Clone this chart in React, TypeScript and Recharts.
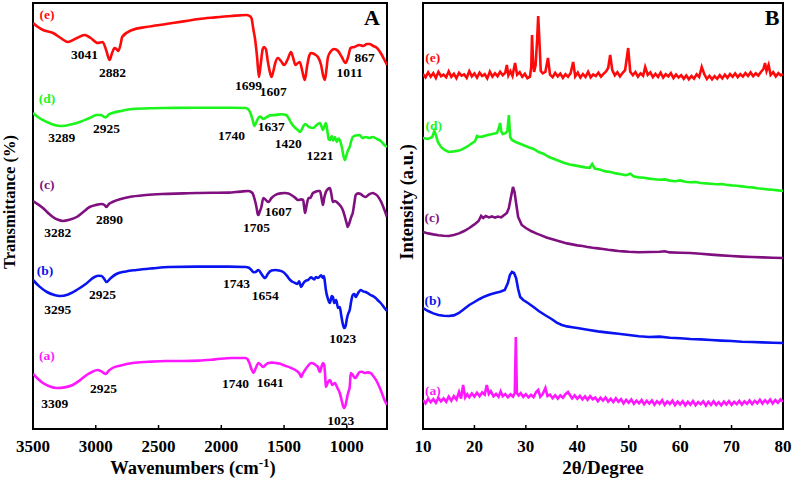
import { LineChart, Line, XAxis, YAxis, ReferenceArea, ReferenceDot } from 'recharts';

const FONT = '"Liberation Serif", "Times New Roman", serif';
const RED = '#ff0a0a';
const GREEN = '#1cf51c';
const PURPLE = '#80107f';
const BLUE = '#0a14f0';
const MAGENTA = '#ff18ff';

// FTIR spectra: [wavenumber, transmittance (a.u., offset)]
const ftirE = [
  [3500, 203], [3460, 201], [3420, 199.5], [3340, 198], [3280, 195.5], [3220, 193.5], [3150, 195.5], [3090, 197],
  [3040, 195.5], [2985, 193], [2945, 193.5], [2915, 189], [2890, 184.5], [2870, 188], [2850, 190.5], [2835, 190],
  [2820, 189], [2800, 193], [2790, 196], [2710, 199.5], [2600, 201], [2440, 202.5], [2300, 203.8], [2180, 205],
  [2050, 205.8], [1920, 206.5], [1800, 207], [1775, 206.5], [1760, 205.5], [1745, 200], [1730, 194.5], [1715, 186],
  [1700, 176], [1685, 183], [1670, 190], [1660, 191], [1645, 190], [1630, 184], [1615, 179], [1600, 176],
  [1585, 179], [1570, 183], [1550, 185.5], [1525, 184], [1500, 182], [1470, 185], [1445, 188.5], [1425, 185],
  [1410, 182], [1390, 183], [1375, 183.5], [1355, 179], [1335, 174.5], [1315, 182], [1300, 186.5], [1285, 188],
  [1260, 187.5], [1230, 186], [1205, 182], [1190, 177], [1175, 174.5], [1162, 180], [1150, 186], [1125, 189],
  [1100, 190], [1070, 189], [1040, 186], [1010, 183], [990, 186], [970, 190.5], [940, 191], [900, 192],
  [870, 191.5], [840, 192.5], [820, 192.5], [790, 191.5], [760, 190.5], [730, 188], [700, 184.5], [680, 182],
];

const ftirD = [
  [3500, 158], [3450, 155.5], [3389, 153.5], [3330, 152], [3271, 151.5], [3200, 152.2], [3128, 153.5], [3050, 155.5],
  [2994, 157], [2960, 157], [2923, 155.8], [2895, 157.3], [2867, 158], [2800, 159], [2709, 160], [2550, 160.4],
  [2440, 160.5], [2200, 160.6], [1918, 160.6], [1807, 160.5], [1785, 159.8], [1768, 158], [1750, 154.5], [1736, 151.5],
  [1720, 153.5], [1700, 156], [1689, 156.2], [1665, 155], [1649, 155.5], [1610, 156.8], [1570, 157], [1520, 157.4],
  [1483, 157], [1460, 155], [1443, 153], [1410, 150.5], [1390, 149.5], [1372, 148.5], [1350, 151], [1333, 152.5],
  [1300, 151], [1269, 150.5], [1240, 152], [1214, 153], [1200, 151], [1190, 149.5], [1178, 151.5], [1167, 153],
  [1155, 149], [1145, 145], [1135, 144.5], [1120, 146.5], [1110, 144.2], [1095, 146], [1080, 143.5], [1068, 145.2],
  [1056, 144.5], [1040, 141], [1028, 137], [1016, 134.5], [1005, 136.5], [990, 139.5], [977, 141], [965, 144],
  [953, 146], [930, 146.8], [898, 147], [875, 145.5], [850, 146], [820, 145.5], [795, 146], [760, 145],
  [730, 144], [700, 142], [680, 141],
];

const ftirC = [
  [3500, 114], [3460, 112.3], [3421, 110.5], [3380, 108], [3342, 106], [3300, 104.6], [3263, 104], [3210, 104.6],
  [3152, 106], [3100, 108.5], [3049, 111], [3000, 112], [2954, 112.5], [2930, 112], [2915, 111], [2895, 112.5],
  [2867, 113.5], [2800, 115], [2733, 116], [2600, 117], [2472, 117.5], [2300, 117.8], [2203, 118], [1942, 118.2],
  [1850, 118.7], [1784, 119], [1752, 118], [1735, 115], [1720, 111], [1710, 107.5], [1704, 107], [1695, 108.5],
  [1681, 111], [1665, 115.5], [1645, 114.5], [1625, 113.5], [1600, 115.5], [1570, 117], [1530, 117.8], [1491, 118],
  [1465, 117.8], [1443, 117], [1415, 115.8], [1388, 114.5], [1365, 114.8], [1348, 114.5], [1340, 111], [1333, 108],
  [1320, 112], [1305, 115.5], [1293, 115.5], [1270, 118], [1254, 118.5], [1230, 119], [1214, 119], [1200, 115],
  [1190, 112], [1180, 115.5], [1167, 118.5], [1150, 120], [1135, 120.5], [1122, 117], [1111, 113.5], [1095, 114],
  [1072, 113], [1050, 111.5], [1032, 109.5], [1015, 106], [1000, 102.5], [993, 101], [980, 103], [965, 106],
  [953, 108], [940, 113], [929, 117], [910, 117.8], [890, 117.5], [870, 116.5], [850, 116], [825, 117.2],
  [795, 118], [775, 117.5], [755, 116.5], [730, 114], [700, 109.5], [680, 106],
];

const ftirB = [
  [3500, 74.5], [3450, 71.3], [3389, 68.5], [3330, 67], [3286, 66.5], [3220, 67.3], [3152, 69.5], [3080, 72.5],
  [3010, 76], [2975, 76.6], [2954, 76.5], [2935, 75.3], [2915, 73.5], [2880, 75.5], [2836, 77.5], [2760, 78.8],
  [2677, 79.5], [2550, 80.3], [2416, 81], [2200, 81.2], [1942, 81.2], [1807, 81], [1780, 80.6], [1760, 79.5],
  [1743, 78.4], [1728, 78.5], [1704, 79.5], [1680, 77.5], [1660, 75.8], [1649, 75.5], [1630, 77.5], [1600, 79.2],
  [1570, 79.5], [1540, 79.3], [1507, 78.5], [1480, 76.8], [1451, 74.5], [1430, 73.5], [1412, 73], [1395, 72.5],
  [1380, 73.8], [1364, 71], [1345, 73], [1325, 74.2], [1309, 74.5], [1285, 75.8], [1260, 74.8], [1245, 76],
  [1230, 75.5], [1205, 76.8], [1190, 75.5], [1182, 76.5], [1172, 72], [1167, 69.5], [1150, 65], [1135, 63],
  [1120, 66.5], [1111, 66], [1100, 63], [1085, 64.5], [1070, 60.5], [1056, 61], [1045, 57], [1030, 52],
  [1020, 50.5], [1010, 51.5], [1000, 55], [990, 57.5], [977, 59.5], [965, 64], [953, 67], [940, 67.5],
  [929, 66], [910, 68], [890, 69.5], [870, 68.8], [850, 68.5], [830, 67.8], [811, 67], [780, 66],
  [755, 64.5], [730, 63], [700, 60.5], [680, 59],
];

const ftirA = [
  [3500, 27.5], [3460, 25], [3421, 23], [3370, 21.4], [3310, 20.5], [3250, 20.8], [3184, 22], [3130, 24.2],
  [3073, 27], [3030, 28.5], [2986, 29.5], [2955, 28.8], [2923, 27.5], [2895, 29.2], [2867, 30.5], [2800, 31.8],
  [2709, 33], [2580, 33.6], [2440, 34], [2300, 34], [2179, 34.2], [2050, 34.8], [1918, 35.5], [1807, 35.5],
  [1790, 34.8], [1776, 33], [1760, 30], [1744, 28], [1725, 30.5], [1704, 33], [1685, 32], [1665, 31],
  [1645, 32.2], [1625, 33], [1600, 33.2], [1570, 33], [1540, 32.8], [1507, 32], [1475, 31.3], [1443, 30.5],
  [1410, 29.5], [1388, 28.5], [1375, 27.5], [1364, 26], [1350, 27.8], [1333, 29.5], [1310, 31.5], [1285, 33],
  [1260, 32.6], [1240, 31.5], [1230, 31], [1220, 29], [1214, 28.5], [1200, 31.5], [1190, 33], [1180, 32],
  [1172, 26], [1167, 21], [1150, 23.5], [1135, 24.5], [1115, 22], [1095, 23], [1075, 20.5], [1056, 18],
  [1040, 14], [1030, 11.5], [1020, 10.5], [1010, 12], [1000, 15], [990, 18], [977, 21], [969, 28],
  [955, 27.2], [940, 25.8], [929, 25.5], [915, 27], [898, 28.5], [880, 28.6], [858, 28], [835, 28.3],
  [811, 28], [790, 26.5], [770, 24.8], [755, 23], [730, 19.5], [700, 14.5], [680, 12],
];

// XRD patterns: [2θ, intensity (a.u., offset)]
const xrdE = [
  [10, 177.5], [10.5, 175.8], [11, 178.3], [11.5, 176.2], [12, 177.9], [12.5, 175.5], [13, 178.6], [13.5, 176.4],
  [14, 177.2], [14.5, 175.9], [15, 178.8], [15.5, 176.1], [16, 177.6], [16.5, 175.4], [17, 178.1], [17.5, 176.7],
  [18, 177.3], [18.5, 175.6], [19, 178.9], [19.5, 176.3], [20, 177.8], [20.5, 175.7], [21, 178.2], [21.5, 176.5],
  [22, 177.4], [22.5, 175.3], [23, 178.7], [23.5, 176.2], [24, 177.9], [24.5, 176.4], [25, 178.6], [25.5, 176.9],
  [26, 178.2], [26.3, 182], [26.6, 176.8], [27, 178.9], [27.4, 176.5], [27.9, 183], [28.3, 177.2], [28.8, 178.4],
  [29.3, 176.1], [29.8, 177.6], [30.3, 175.4], [30.8, 176.2], [31.05, 181], [31.2, 197], [31.4, 184], [31.6, 178.5],
  [31.9, 182], [32.2, 195], [32.4, 206.5], [32.6, 196], [32.9, 179], [33.3, 177.8], [33.8, 178.6], [34.3, 185.5],
  [34.7, 177.2], [35.2, 175.9], [35.7, 178.1], [36.2, 176.3], [36.7, 177.7], [37.2, 175.6], [37.7, 177.4], [38.2, 176.1],
  [38.7, 177.9], [39.2, 183.5], [39.6, 176.3], [40.1, 178.2], [40.6, 175.7], [41.1, 177.5], [41.6, 176], [42.1, 178.6],
  [42.6, 175.8], [43.1, 177.3], [43.6, 176.5], [44.1, 178.1], [44.6, 176.2], [45.1, 177.6], [45.6, 178.8], [46, 180.5],
  [46.4, 187], [46.8, 179.5], [47.3, 176.8], [47.8, 178.4], [48.3, 176.3], [48.8, 178], [49.3, 179.4], [49.9, 190.5],
  [50.3, 178.6], [50.8, 176.9], [51.3, 178.5], [51.8, 176.2], [52.3, 177.8], [52.8, 176.6], [53.2, 181], [53.7, 177.1],
  [54.2, 178.3], [54.7, 175.9], [55.2, 177.6], [55.7, 176], [56.2, 178.2], [56.7, 175.7], [57.2, 177.4], [57.7, 176.3],
  [58.2, 177.9], [58.7, 175.5], [59.2, 177.2], [59.7, 175.8], [60.2, 176.9], [60.7, 175.1], [61.2, 176.8], [61.7, 174.9],
  [62.2, 176.5], [62.7, 175.2], [63.2, 177.3], [63.7, 176], [64.2, 181], [64.7, 177.4], [65.2, 175], [65.7, 176.6],
  [66.2, 174.8], [66.7, 176.4], [67.2, 175.1], [67.7, 176.9], [68.2, 175.3], [68.7, 177.2], [69.2, 175.6], [69.7, 177.5],
  [70.2, 176.1], [70.7, 177.8], [71.2, 175.9], [71.7, 177.4], [72.2, 176.2], [72.7, 178], [73.2, 176.5], [73.7, 178.3],
  [74.2, 176.4], [74.7, 177.8], [75.2, 176.7], [75.7, 178.5], [76.2, 180], [76.5, 183], [76.8, 179], [77.2, 182],
  [77.6, 177], [78.1, 178.4], [78.6, 176.3], [79.1, 177.9], [79.6, 176.8], [80, 177.5],
];

const xrdD = [
  [10, 145.5], [11, 145], [11.8, 146], [12.2, 149], [12.5, 147], [12.9, 143.5], [13.5, 141], [14.2, 139.5],
  [15, 138.5], [16, 138.8], [17, 139.2], [17.6, 139.8], [18.5, 141], [19.3, 142.5], [20.1, 143.8], [20.5, 146.5],
  [20.9, 146], [21.5, 146.2], [22.6, 147], [23.5, 147.5], [24.4, 148], [24.8, 151], [25, 153], [25.2, 149],
  [25.5, 147.5], [26, 147.8], [26.4, 149], [26.7, 157], [26.95, 146], [27.3, 144.5], [28, 143.5], [29, 142.5],
  [30.4, 141], [31.5, 140], [32.5, 138.5], [33.5, 137.5], [34.5, 136], [35.5, 135], [36.5, 134], [37.5, 133],
  [38.5, 132.2], [39.5, 131.8], [40.5, 131.3], [41.5, 130.8], [42.4, 130.6], [42.9, 132.5], [43.4, 130.2], [44.5, 129.6],
  [45.5, 128.8], [46.5, 128.5], [47.5, 127.8], [48.5, 127.4], [49.5, 126.9], [50.3, 127.6], [51, 126.2], [52, 125.8],
  [53, 125.6], [54, 125.2], [55, 124.9], [56, 124.6], [57, 124.8], [58, 124.2], [59, 123.9], [60, 124.3],
  [61, 123.6], [62, 123.4], [63, 123.5], [64, 123], [65, 122.8], [66, 122.6], [67, 122.4], [68, 122.5],
  [69, 122.1], [70, 121.8], [71, 121.6], [72, 121.3], [73, 121], [74, 120.8], [75, 120.4], [76, 120.1],
  [77, 119.8], [78, 119.6], [79, 119.3], [80, 119],
];

const xrdC = [
  [10, 98.5], [11, 97.8], [12, 97.3], [13, 96.9], [14, 96.6], [15, 96.5], [16, 97], [17, 97.8],
  [18, 99], [19, 100.5], [20, 102.3], [20.8, 104], [21.3, 106.5], [21.7, 105.5], [22.2, 106.5], [22.8, 105.8],
  [23.4, 106.3], [24, 105.7], [24.6, 106.2], [25.2, 105.8], [25.8, 107], [26.3, 108], [26.7, 110.5], [27.1, 116],
  [27.5, 121], [27.8, 118.5], [28.1, 113], [28.5, 106], [29.2, 102], [30, 100.5], [31, 99], [32, 97.8],
  [33, 96.8], [34, 95.8], [35, 95], [36, 94.2], [37, 93.5], [38, 92.8], [39, 92.3], [40, 91.8],
  [41, 91.5], [42, 91], [43, 90.6], [44, 90.3], [45, 90], [46, 89.6], [47, 89.3], [48, 89],
  [49, 88.8], [50, 88.6], [52, 88.4], [54, 88.5], [56, 88.6], [57, 88.9], [58, 88.3], [60, 88.1],
  [62, 88], [64, 87.6], [66, 87.2], [68, 86.8], [70, 86.5], [72, 86.2], [74, 86], [76, 85.8],
  [78, 85.6], [80, 85.5],
];

const xrdB = [
  [10, 60.5], [11, 59], [12, 57.8], [13, 57], [14, 56.6], [15, 56.5], [16, 56.8], [17, 58],
  [18, 60], [19, 62], [20, 63.5], [21, 65], [22, 66.3], [23, 67.2], [24, 68], [25, 68.6],
  [25.9, 69.5], [26.5, 73], [26.9, 77], [27.3, 78.5], [27.7, 78], [28.1, 75.5], [28.5, 70], [28.9, 66],
  [29.5, 64.5], [30.4, 63], [31.5, 61], [32.5, 59], [33.7, 57], [35, 55], [36, 53.2], [37, 52],
  [38, 51.3], [39, 50.9], [40, 50.5], [42, 49.6], [44, 48.8], [46, 48.2], [48, 47.6], [50, 47],
  [52, 46.4], [54, 46], [56, 46.2], [58, 45.6], [60, 45.4], [62, 45], [64, 44.8], [66, 44.5],
  [68, 44.2], [70, 44], [72, 43.6], [74, 43.5], [76, 43.3], [78, 43.1], [80, 43],
];

const xrdA = [
  [10, 14.5], [10.5, 12.8], [11, 15.2], [11.5, 13.4], [12, 14.9], [12.5, 13.1], [13, 15.6], [13.5, 13.8],
  [14, 15.3], [14.5, 13.6], [15, 16.2], [15.5, 14.1], [16, 16.4], [16.5, 14.7], [17, 18.5], [17.4, 15.2],
  [17.8, 22], [18.2, 15.8], [18.6, 17.4], [19, 15.9], [19.5, 17.8], [20, 16.2], [20.5, 18.1], [21, 16.4],
  [21.5, 18.3], [22, 17.2], [22.4, 22], [22.8, 17.5], [23.2, 18.9], [23.7, 16.3], [24.2, 17.6], [24.7, 16.1],
  [25.1, 18.8], [25.5, 16.4], [26, 17.5], [26.5, 15.9], [27, 17.3], [27.5, 16.2], [27.85, 18], [28.05, 46],
  [28.25, 18], [28.6, 16.8], [29, 17.9], [29.5, 16], [30, 17.4], [30.5, 15.8], [31, 17.1], [31.5, 15.9],
  [32, 18.5], [32.4, 19.5], [32.8, 16.2], [33.3, 17.6], [33.8, 20.5], [34.2, 16.5], [34.7, 17.2], [35.2, 15.4],
  [35.7, 16.9], [36.2, 15.2], [36.7, 16.8], [37.2, 15.6], [37.7, 17.4], [38.2, 18.5], [38.6, 16.9], [39, 15.3],
  [39.5, 16.8], [40, 15.1], [40.5, 16.6], [41, 14.8], [41.5, 16.3], [42, 14.6], [42.5, 16.4], [43, 14.9],
  [43.5, 15.7], [44, 13.9], [44.5, 15.6], [45, 14.2], [45.5, 15.8], [46, 13.7], [46.5, 15.1], [47, 13.5],
  [47.5, 15.4], [48, 13.6], [48.5, 14.9], [49, 12.8], [49.5, 14.6], [50, 13.1], [50.5, 14.7], [51, 12.6],
  [51.5, 14.2], [52, 12.9], [52.5, 14.5], [53, 12.4], [53.5, 14.1], [54, 12.7], [54.5, 14.3], [55, 12.2],
  [55.5, 13.9], [56, 12.6], [56.5, 14.4], [57, 12.1], [57.5, 13.8], [58, 12.5], [58.5, 14.2], [59, 11.9],
  [59.5, 13.7], [60, 12.3], [60.5, 13.9], [61, 11.8], [61.5, 13.6], [62, 12.2], [62.5, 14], [63, 11.9],
  [63.5, 13.5], [64, 12.4], [64.5, 13.8], [65, 11.7], [65.5, 13.6], [66, 12.1], [66.5, 13.9], [67, 12],
  [67.5, 13.4], [68, 11.8], [68.5, 13.7], [69, 12.3], [69.5, 13.9], [70, 12.1], [70.5, 13.6], [71, 12.4],
  [71.5, 14], [72, 12.2], [72.5, 13.8], [73, 12.6], [73.5, 14.3], [74, 12.5], [74.5, 14.1], [75, 12.9],
  [75.5, 14.6], [76, 12.7], [76.5, 14.4], [77, 13], [77.5, 14.7], [78, 12.8], [78.5, 14.5], [79, 13.1],
  [79.5, 14.8], [80, 13.6],
];

const ftirTicks = [1000, 1500, 2000, 2500, 3000, 3500];
const xrdTicks = [10, 20, 30, 40, 50, 60, 70, 80];

// [x, y, text, colour]
const ftirLabels = [
  [3389, 207.5, '(e)', RED], [3089, 187.5, '3041', '#000'], [2867, 178.5, '2882', '#000'], [1784, 172, '1699', '#000'],
  [1586, 169, '1607', '#000'], [977, 178.5, '1011', '#000'], [858, 186, '867', '#000'],
  [3389, 165.5, '(d)', GREEN], [3271, 146, '3289', '#000'], [2915, 150.5, '2925', '#000'], [1918, 147, '1740', '#000'],
  [1602, 151.5, '1637', '#000'], [1467, 143, '1420', '#000'], [1214, 137, '1221', '#000'],
  [3389, 122.5, '(c)', PURPLE], [3302, 98.5, '3282', '#000'], [2891, 105, '2890', '#000'], [1720, 101, '1705', '#000'],
  [1546, 109, '1607', '#000'],
  [3405, 79.5, '(b)', BLUE], [3302, 60, '3295', '#000'], [2946, 67.5, '2925', '#000'], [1878, 73, '1743', '#000'],
  [1649, 67, '1654', '#000'], [1032, 45.5, '1023', '#000'],
  [3389, 37, '(a)', MAGENTA], [3326, 13, '3309', '#000'], [2938, 20.5, '2925', '#000'], [1886, 23, '1740', '#000'],
  [1610, 23.5, '1641', '#000'], [1048, 4.5, '1023', '#000'],
];

const xrdLabels = [
  [11.9, 186, '(e)', RED], [12.1, 152, '(d)', GREEN], [11.75, 106, '(c)', PURPLE], [11.9, 64.5, '(b)', BLUE], [11.9, 19.5, '(a)', MAGENTA],
];

const pts = (arr: number[][]) => arr.map(([x, y]) => ({ x, y }));

const tickStyle = { fill: '#000', fontSize: 17, fontWeight: 'bold', fontFamily: FONT };

const WaveTitle = ({ viewBox }: any) => (
  <text x={viewBox.x + viewBox.width / 2 - 17} y={viewBox.y + 45} textAnchor="middle" fill="#000"
    fontSize={18.5} fontWeight="bold" fontFamily={FONT}>
    Wavenumbers (cm<tspan dy={-7} fontSize={13}>-1</tspan><tspan dy={7}>)</tspan>
  </text>
);

const DegreeTitle = ({ viewBox }: any) => (
  <text x={viewBox.x + viewBox.width / 2} y={viewBox.y + 45} textAnchor="middle" fill="#000"
    fontSize={19} fontWeight="bold" fontFamily={FONT}>
    2θ/Degree
  </text>
);

const yTitle = (text: string, bx: number, size: number) => ({ viewBox }: any) => {
  const cy = viewBox.y + viewBox.height / 2 - 14;
  return (
    <text x={bx} y={cy} transform={`rotate(-90, ${bx}, ${cy})`} textAnchor="middle" fill="#000"
      fontSize={size} fontWeight="bold" fontFamily={FONT}>
      {text}
    </text>
  );
};

const renderLabels = (list: any[]) =>
  list.map(([x, y, text, color], i) => (
    <ReferenceDot key={i} x={x} y={y} r={0} fill="none" stroke="none" ifOverflow="visible"
      label={{ value: text, position: 'center', fill: color, fontSize: 13.5, fontWeight: 'bold', fontFamily: FONT }} />
  ));

export default function App() {
  return (
    <div style={{ position: 'absolute', left: 0, top: 0, width: 793, height: 478, background: '#fff' }}>
      <div style={{ position: 'absolute', left: 0, top: 0 }}>
        <LineChart width={400} height={478} margin={{ top: 3, right: 13, bottom: 4, left: 0 }}>
          <XAxis type="number" dataKey="x" domain={[680, 3500]} reversed allowDataOverflow ticks={ftirTicks}
            height={45} axisLine={false} tickSize={-4} tickMargin={15} tickLine={{ stroke: '#000', strokeWidth: 1.5 }}
            tick={tickStyle} label={WaveTitle} />
          <YAxis type="number" domain={[0, 213]} allowDataOverflow width={33} tick={false} axisLine={false}
            tickLine={false} label={yTitle('Transmittance (%)', 15, 16.5)} />
          <Line data={pts(ftirE)} dataKey="y" type="monotone" stroke={RED} strokeWidth={2.6} dot={false} isAnimationActive={false} />
          <Line data={pts(ftirD)} dataKey="y" type="monotone" stroke={GREEN} strokeWidth={2.6} dot={false} isAnimationActive={false} />
          <Line data={pts(ftirC)} dataKey="y" type="monotone" stroke={PURPLE} strokeWidth={2.6} dot={false} isAnimationActive={false} />
          <Line data={pts(ftirB)} dataKey="y" type="monotone" stroke={BLUE} strokeWidth={2.6} dot={false} isAnimationActive={false} />
          <Line data={pts(ftirA)} dataKey="y" type="monotone" stroke={MAGENTA} strokeWidth={2.6} dot={false} isAnimationActive={false} />
          <ReferenceArea x1={680} x2={3500} y1={0} y2={213} fill="none" stroke="#000" strokeWidth={2} ifOverflow="visible" />
          {renderLabels(ftirLabels)}
          <ReferenceDot x={800} y={206} r={0} fill="none" stroke="none" ifOverflow="visible"
            label={{ value: 'A', position: 'center', fill: '#000', fontSize: 22, fontWeight: 'bold', fontFamily: FONT }} />
        </LineChart>
      </div>
      <div style={{ position: 'absolute', left: 395, top: 0 }}>
        <LineChart width={398} height={478} margin={{ top: 3, right: 10, bottom: 4, left: 0 }}>
          <XAxis type="number" dataKey="x" domain={[10, 80]} allowDataOverflow ticks={xrdTicks}
            height={45} axisLine={false} tickSize={-4} tickMargin={15} tickLine={{ stroke: '#000', strokeWidth: 1.5 }}
            tick={tickStyle} label={DegreeTitle} />
          <YAxis type="number" domain={[0, 213]} allowDataOverflow width={28} tick={false} axisLine={false}
            tickLine={false} label={yTitle('Intensity (a.u.)', 18, 18.5)} />
          <Line data={pts(xrdE)} dataKey="y" type="linear" stroke={RED} strokeWidth={2.6} dot={false} isAnimationActive={false} />
          <Line data={pts(xrdD)} dataKey="y" type="linear" stroke={GREEN} strokeWidth={2.6} dot={false} isAnimationActive={false} />
          <Line data={pts(xrdC)} dataKey="y" type="linear" stroke={PURPLE} strokeWidth={2.6} dot={false} isAnimationActive={false} />
          <Line data={pts(xrdB)} dataKey="y" type="linear" stroke={BLUE} strokeWidth={2.6} dot={false} isAnimationActive={false} />
          <Line data={pts(xrdA)} dataKey="y" type="linear" stroke={MAGENTA} strokeWidth={2.6} dot={false} isAnimationActive={false} />
          <ReferenceArea x1={10} x2={80} y1={0} y2={213} fill="none" stroke="#000" strokeWidth={2} ifOverflow="visible" />
          {renderLabels(xrdLabels)}
          <ReferenceDot x={77.9} y={206} r={0} fill="none" stroke="none" ifOverflow="visible"
            label={{ value: 'B', position: 'center', fill: '#000', fontSize: 22, fontWeight: 'bold', fontFamily: FONT }} />
        </LineChart>
      </div>
    </div>
  );
}
